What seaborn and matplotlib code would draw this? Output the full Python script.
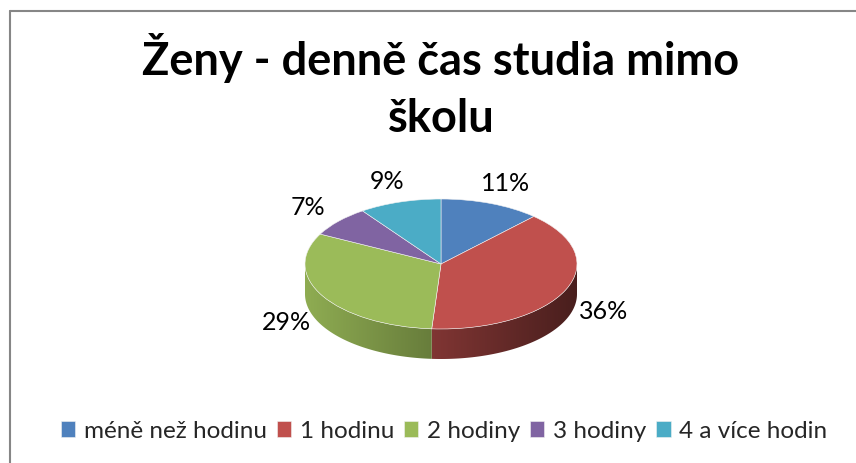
import numpy as np
import matplotlib
matplotlib.use('Agg')
import matplotlib.pyplot as plt
import matplotlib.colors as mcolors
from matplotlib.lines import Line2D
import seaborn as sns

categories = ['méně než hodinu', '1 hodinu', '2 hodiny', '3 hodiny', '4 a více hodin']
shares = [11, 36, 29, 7, 9]
colors = ['#4F81BD', '#C0504D', '#9BBB59', '#8064A2', '#4BACC6']
title = 'Ženy - denně čas studia mimo\nškolu'

sns.set_theme(style='white')
plt.rcParams['font.family'] = ['Lato', 'DejaVu Sans']

W, H = 856, 464
fig = plt.figure(figsize=(W / 100, H / 100), dpi=100)
ax = fig.add_axes([0, 0, 1, 1])

# top face of the "3d" pie
wedges, _ = ax.pie(shares, colors=colors, startangle=90, counterclock=False, radius=1,
                   wedgeprops=dict(edgecolor='#f2f2f2', linewidth=0.4, zorder=3))

# pixel geometry of the tilted pie: centre, radii, thickness
cx, cy, rx, ry, depth_px = 441, 265, 136, 65, 30
depth = depth_px / ry

# side walls, only the front half (angles -180..0) is visible
xg = np.linspace(-1, 1, 200)
shade = 0.65 - 0.27 * xg
for w, c in zip(wedges, colors):
    a, b = max(w.theta1, -180), min(w.theta2, 0)
    if b <= a:
        continue
    t = np.radians(np.linspace(a, b, 100))
    xs, ys = np.cos(t), np.sin(t)
    wall = ax.fill(np.r_[xs, xs[::-1]], np.r_[ys, ys[::-1] - depth],
                   color=c, lw=0, zorder=1)[0]
    wall.set_visible(False)
    grad = np.clip(np.array(mcolors.to_rgb(c))[None, None, :] * shade[None, :, None], 0, 1)
    img = ax.imshow(grad, extent=(-1, 1, -1 - depth, 0), aspect='auto',
                    interpolation='bilinear', zorder=1)
    img.set_clip_path(wall)

ax.set_xlim(-cx / rx, (W - cx) / rx)
ax.set_ylim((cy - H) / ry, cy / ry)
ax.set_aspect('auto')
ax.axis('off')

# percentage labels
for w, v in zip(wedges, shares):
    mid = np.radians((w.theta1 + w.theta2) / 2)
    x, y = 1.3 * np.cos(mid), 1.35 * np.sin(mid)
    if np.sin(mid) < 0:
        y -= depth * -np.sin(mid)
    ax.text(x, y, f'{v}%', ha='center', va='center', fontsize=18, color='#000000')

# va='baseline' puts the last line's baseline at y
fig.text(441 / W, 1 - 132 / H, title, ha='center', va='baseline', fontsize=32.5,
         fontweight='bold', linespacing=1.45, color='#000000')

fig.legend(wedges, categories, loc='center', bbox_to_anchor=(444 / W, 1 - 432 / H),
           ncol=5, frameon=False, fontsize=17.5, handlelength=0.6, handleheight=0.6,
           handletextpad=0.35, columnspacing=0.4, borderpad=0)

# chart area border (only top and left edges are in view)
border = dict(color='#868686', linewidth=1.5, transform=fig.transFigure)
fig.add_artist(Line2D([9.5 / W, 9.5 / W], [0, 1 - 11.5 / H], **border))
fig.add_artist(Line2D([9.5 / W, 1], [1 - 11.5 / H, 1 - 11.5 / H], **border))

fig.savefig('out.png', dpi=100, facecolor='white')
